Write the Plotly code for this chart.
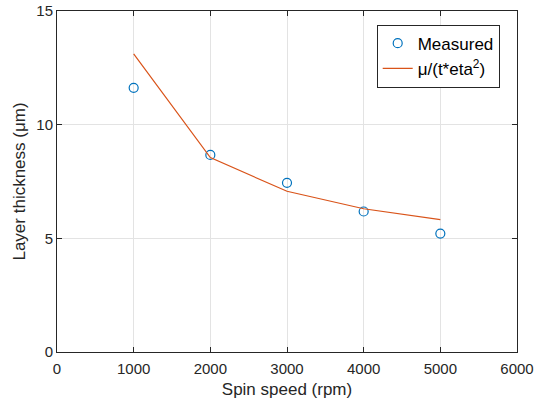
import plotly.graph_objects as go

speed = [1000, 2000, 3000, 4000, 5000]
measured = [11.62, 8.67, 7.44, 6.18, 5.21]
model = [13.11, 8.55, 7.07, 6.30, 5.82]

FONT = "Liberation Sans, Arial, Helvetica"

fig = go.Figure()
fig.add_trace(go.Scatter(x=speed, y=measured, mode="markers", name="Measured",
                         marker=dict(symbol="circle-open", size=9, color="#0072BD",
                                     line=dict(width=1.2, color="#0072BD"))))
fig.add_trace(go.Scatter(x=speed, y=model, mode="lines", name="μ/(t*eta<sup>2</sup>)",
                         line=dict(color="#D95319", width=1.2)))

axis_common = dict(showline=True, linecolor="#262626", linewidth=1, mirror="ticks",
                   ticks="inside", ticklen=5, tickcolor="#262626", automargin=False,
                   showgrid=True, gridcolor="#E3E3E3", gridwidth=1, zeroline=False,
                   tickfont=dict(family=FONT, size=15, color="#262626"),
                   title_font=dict(family=FONT, size=17, color="#262626"))

fig.update_layout(
    width=534, height=405,
    margin=dict(l=57, r=17, t=11, b=53),
    paper_bgcolor="white", plot_bgcolor="white",
    xaxis=dict(range=[0, 6000], tickvals=[0, 1000, 2000, 3000, 4000, 5000, 6000],
               ticklabelstandoff=3,
               title=dict(text="Spin speed (rpm)", standoff=7), **axis_common),
    yaxis=dict(range=[0, 15], tickvals=[0, 5, 10, 15],
               title=dict(text="Layer thickness (μm)", standoff=6), **axis_common),
    legend=dict(x=0.695, y=0.96, xanchor="left", yanchor="top",
                bgcolor="white", bordercolor="#262626", borderwidth=1,
                font=dict(family=FONT, size=17, color="black"),
                tracegroupgap=0, itemwidth=30),
    showlegend=True,
)

fig.write_html("out.html")
